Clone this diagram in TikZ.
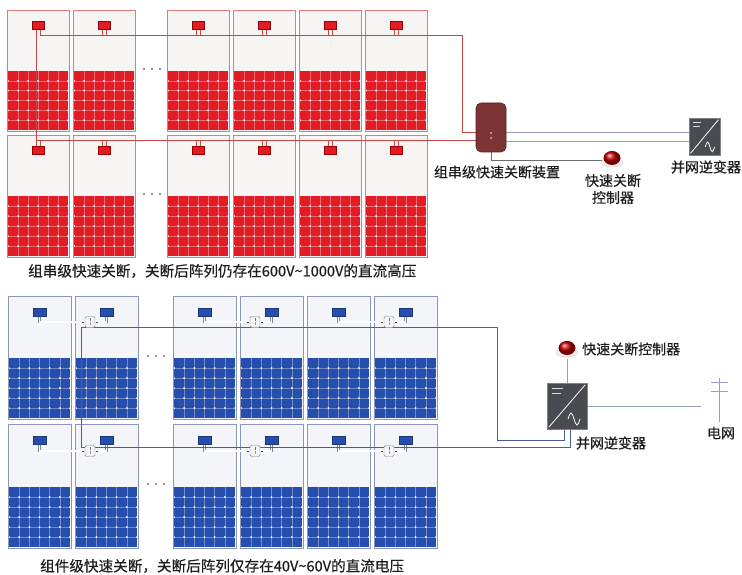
\documentclass[tikz,border=0pt]{standalone}
\usepackage{fontspec}
\setmainfont{Noto Sans CJK SC}[FakeBold=0.4]
\usetikzlibrary{calc}
\pgfdeclarelayer{under}
\pgfsetlayers{under,main}

\definecolor{redframe}{RGB}{226,122,122}
\definecolor{redback}{RGB}{247,244,244}
\definecolor{redcell}{RGB}{226,28,36}
\definecolor{redwire}{RGB}{200,70,70}
\definecolor{blueframe}{RGB}{140,150,185}
\definecolor{blueback}{RGB}{244,245,249}
\definecolor{bluecell}{RGB}{38,78,172}
\definecolor{bluewire}{RGB}{72,92,160}
\definecolor{leadgrey}{RGB}{125,135,165}
\definecolor{acwire}{RGB}{150,160,190}
\definecolor{invgrey}{RGB}{72,76,80}
\definecolor{rsdbrown}{RGB}{125,52,52}
\definecolor{ctrlgrey}{RGB}{110,110,110}
\definecolor{textgrey}{RGB}{30,30,30}

% one PV module: x, top, width, cell top, bottom, colour prefix
\newcommand{\pvmodule}[6]{%
  \fill[#6back] (#1,#2) rectangle (#1+#3,#5);
  \fill[#6cell] (#1+1,#4) rectangle (#1+#3-1,#5-1);
  \foreach \gi in {1,...,5}{%
    \draw[white, opacity=0.35, line width=0.35pt] ({#1+1+\gi*(#3-2)/6},#4) -- ({#1+1+\gi*(#3-2)/6},#5-1);
    \draw[white, opacity=0.35, line width=0.35pt] (#1+1,{#4+\gi*(#5-1-#4)/6}) -- (#1+#3-1,{#4+\gi*(#5-1-#4)/6});
  }
  \foreach \gi in {0,...,6}{\foreach \gj in {1,...,5}{%
    \fill[white] ({#1+1+\gi*(#3-2)/6},{#4+\gj*(#5-1-#4)/6}) circle (1.0);}}
  \draw[#6frame, line width=0.8pt] (#1,#2) rectangle (#1+#3,#5);
}

% inverter symbol inside a node: node, xscale, yscale
\newcommand{\invertericon}[3]{%
  \begin{scope}[shift={(#1.center)}, xscale=#2, yscale=#3]
    \draw[white, line width=0.8pt] (-18,21) -- (18,-21);
    \draw[white!80!invgrey, line width=0.8pt] (-15,-18) -- (-4,-18) (-15,-13) -- (-6,-13);
    \draw[white, line width=0.8pt] (1,13) sin (4,7) cos (7,13) sin (10,19) cos (13,13);
  \end{scope}}

% emergency stop button drawn at a node
\newcommand{\stopbutton}[1]{%
  \fill[black!6] ([yshift=-2.5pt]#1.center) ellipse [x radius=11, y radius=4.5];
  \draw[black!18, line width=0.4pt] ([yshift=-2.5pt]#1.center) ellipse [x radius=11, y radius=4.5];
  \fill[red!50!black] ([yshift=2pt]#1.center) ellipse [x radius=8.5, y radius=7];
  \shade[ball color=red!80!black] ([yshift=2.5pt]#1.center) ellipse [x radius=7.5, y radius=6];
}

\tikzset{
  jbred/.style={draw=red!60!black, fill=redcell, minimum width=12pt, minimum height=8pt, inner sep=0pt, line width=0.4pt},
  jbblue/.style={draw=bluecell!70!black, fill=bluecell, minimum width=13pt, minimum height=8pt, inner sep=0pt, line width=0.4pt},
  redline/.style={draw=redwire, line width=0.7pt},
  blueline/.style={draw=bluewire, line width=0.7pt},
  leadline/.style={draw=leadgrey, line width=0.45pt, double=white, double distance=1.2pt},
  acline/.style={draw=acwire, line width=0.8pt},
  ctrlline/.style={draw=ctrlgrey, line width=0.7pt},
  optbox/.style={draw=black!50, fill=black!4, rounded corners=1.5pt, minimum width=10pt, minimum height=11pt, inner sep=0pt, line width=0.45pt},
  inverterbox/.style={fill=invgrey, draw=invgrey!70!white, line width=0.6pt, inner sep=0pt},
  rsdbox/.style={fill=rsdbrown, draw=rsdbrown!70!black, rounded corners=5pt, minimum width=30pt, minimum height=49pt, inner sep=0pt, line width=0.6pt},
  btnnode/.style={circle, minimum size=18pt, inner sep=0pt},
  captxt/.style={font=\fontsize{14}{17}\selectfont, text=textgrey, inner sep=0pt},
  bigcap/.style={font=\fontsize{14.6}{17}\selectfont, text=textgrey, inner sep=0pt, anchor=west},
  dotmark/.style={fill=black!55},
}

\begin{document}
\begin{tikzpicture}[x=1pt,y=-1pt]
\useasboundingbox (0,0) rectangle (742,575);
\begin{pgfonlayer}{under}
\fill[white] (0,0) rectangle (742,575);
\end{pgfonlayer}

% ================= string-level shutdown (top) =================
\begin{pgfonlayer}{under}
\foreach \x in {7,73,167,233,299,365}{
  \pvmodule{\x}{10}{62}{71}{131}{red}
  \pvmodule{\x}{135}{62}{196}{257}{red}
}
\end{pgfonlayer}
\foreach \x [count=\k] in {7,73,167,233,299,365}{
  \node[jbred] (rt\k) at (\x+31,25) {};
  \node[jbred] (rb\k) at (\x+31,150) {};
}
\foreach \y in {69,194}{\foreach \x in {144,152,160}{\fill[dotmark] (\x,\y) circle (1.1);}}

\node[rsdbox] (rsd) at (491,127.5) {};
\fill[white!70!rsdbrown] ([yshift=-5.5pt]rsd.center) circle (1);
\fill[white!70!rsdbrown] ([yshift=-10.5pt]rsd.center) circle (1);
\node[inverterbox, minimum width=31pt, minimum height=37pt] (inv1) at (704.5,136.5) {};
\invertericon{inv1}{0.775}{0.8}
\node[btnnode] (btn1) at (612,160) {};
\coordinate (rturn) at (462,35);

\begin{pgfonlayer}{under}
\foreach \k in {2,...,6}{
  \draw[redline] ([xshift=-2pt]rt\k.south) -- ++(0,6);
  \draw[redline] ([xshift=2pt]rt\k.south) -- ++(0,6);
}
\foreach \k in {1,...,6}{
  \draw[redline] ([xshift=-2pt]rb\k.north) -- ++(0,-5);
  \draw[redline] ([xshift=2pt]rb\k.north) -- ++(0,-5);
}
\draw[redline] ([xshift=2pt]rt1.south) |- (rturn) |- ([yshift=-4.5pt]rsd.west);
\draw[redline] ([xshift=-2pt]rt1.south) |- ([yshift=-12.5pt]rsd.west);
\draw[acline] ([yshift=-5pt]rsd.east) -- ([yshift=-5pt]rsd.east -| inv1.west);
\draw[acline] ([yshift=-13.5pt]rsd.east) -- ([yshift=-13.5pt]rsd.east -| inv1.west);
\draw[ctrlline] (rsd.south) |- (btn1.west);
\end{pgfonlayer}
\stopbutton{btn1}

\node[captxt] (rsdtxt) at (497,172) {组串级快速关断装置};
\node[captxt, align=center] (btn1txt) at (613,189) {快速关断\\控制器};
\node[captxt] (inv1txt) at (706,167) {并网逆变器};
\node[bigcap] (capA) at (28,271) {组串级快速关断，关断后阵列仍存在600V\textasciitilde1000V的直流高压};

% ================= module-level shutdown (bottom) =================
\begin{pgfonlayer}{under}
\foreach \x in {8,75,173,240,307,374}{
  \pvmodule{\x}{296}{63}{358}{419}{blue}
  \pvmodule{\x}{424}{63}{487}{548}{blue}
}
\end{pgfonlayer}
\foreach \x [count=\k] in {8,75,173,240,307,374}{
  \node[jbblue] (bt\k) at (\x+31.5,312) {};
  \node[jbblue] (bb\k) at (\x+31.5,440) {};
}
\foreach \x [count=\k] in {90,255,389}{
  \node[optbox] (ot\k) at (\x,322) {};
  \node[optbox] (ob\k) at (\x,451) {};
}
\foreach \k in {1,2,3}{
  \foreach \r in {ot,ob}{
    \draw[black!75, line width=1pt] ([xshift=-0.5pt]\r\k.west) -- ++(-2.5,0);
    \draw[black!75, line width=1pt] ([xshift=0.5pt]\r\k.east) -- ++(2.5,0);
    \draw[black!55, line width=0.5pt] ([yshift=-2pt]\r\k.north) -- ++(0,3);
    \draw[black!40, line width=0.4pt] ([yshift=-6pt]\r\k.north) -- ++(0,2.5);
  }
}
\foreach \y in {356,484}{\foreach \x in {148,156,164}{\fill[dotmark] (\x,\y) circle (1.1);}}

\node[inverterbox, minimum width=40pt, minimum height=46pt] (inv2) at (567,406) {};
\invertericon{inv2}{1}{1}
\node[btnnode] (btn2) at (567,350) {};
\node[inner sep=0pt, minimum width=36pt, minimum height=44pt] (grid) at (719,400) {};
\coordinate (lj1) at (81,327);
\coordinate (lj2) at (81,447);
\coordinate (bend) at (497,440);

\begin{pgfonlayer}{under}
\draw[leadline] (bt1.south) |- (ot1.west);
\draw[leadline] (bt2.south) |- (ot1.east);
\draw[leadline] (bt3.south) |- (ot2.west);
\draw[leadline] (bt4.south) |- (ot2.east);
\draw[leadline] (bt5.south) |- (ot3.west);
\draw[leadline] (bt6.south) |- (ot3.east);
\draw[leadline] (bb1.south) |- (ob1.west);
\draw[leadline] (bb2.south) |- (ob1.east);
\draw[leadline] (bb3.south) |- (ob2.west);
\draw[leadline] (bb4.south) |- (ob2.east);
\draw[leadline] (bb5.south) |- (ob3.west);
\draw[leadline] (bb6.south) |- (ob3.east);
\draw[blueline] (lj2) -- (lj1) -| (bend) -| ([xshift=-3pt]inv2.south);
\draw[blueline] (lj2) -| ([xshift=3pt]inv2.south);
\draw[acline] (btn2.south) -- (inv2.north);
\draw[acline] (inv2.east) -- (inv2.east -| grid.west);
\end{pgfonlayer}
\stopbutton{btn2}

\draw[acline] (grid.north) -- (grid.south);
\draw[acline] ([shift={(-8pt,-5pt)}]grid.north) -- ++(17,0);
\draw[acline] ([shift={(-8pt,-14pt)}]grid.north) -- ++(17,0);

\node[captxt, anchor=west] (btn2txt) at (582,349) {快速关断控制器};
\node[captxt] (inv2txt) at (611,443) {并网逆变器};
\node[captxt] (gridtxt) at (721,433) {电网};
\node[bigcap] (capB) at (40,566) {组件级快速关断，关断后阵列仅存在40V\textasciitilde60V的直流电压};
\end{tikzpicture}
\end{document}
